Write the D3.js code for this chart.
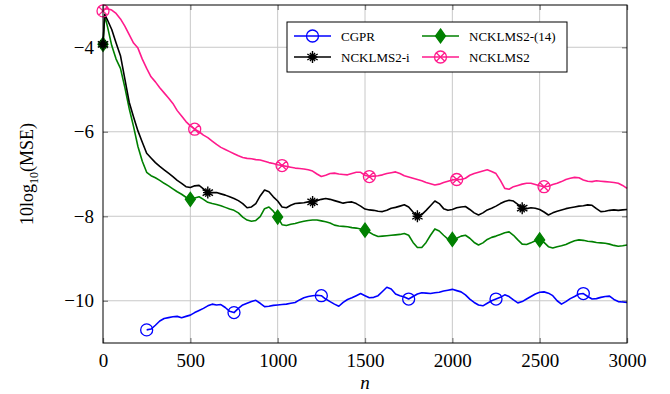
<!DOCTYPE html>
<html>
<head>
<meta charset="utf-8">
<script src="https://cdn.jsdelivr.net/npm/d3@7"></script>
<style>
  body { margin: 0; background: #fff; }
  svg { display: block; }
  svg text { font-family: "Liberation Serif", "Times New Roman", Times, "DejaVu Serif", serif; }
</style>
</head>
<body>
<div id="chart"></div>
<script>
// sample index (n) shared by all series
const nValues = [0, 10].concat(d3.range(25, 3001, 25));

const xTicks = [0, 500, 1000, 1500, 2000, 2500, 3000];
const yTicks = [-10, -8, -6, -4];

// CGPR starts at n = 250
const cgpr = [null, null, null, null, null, null, null, null, null, null, null,
  -10.69, -10.67, -10.58, -10.48, -10.42, -10.40, -10.38, -10.37, -10.40, -10.37,
  -10.34, -10.28, -10.23, -10.18, -10.12, -10.08, -10.10, -10.09, -10.16, -10.25,
  -10.28, -10.18, -10.10, -10.06, -10.02, -9.99, -10.06, -10.14, -10.13, -10.11,
  -10.10, -10.09, -10.08, -10.06, -10.04, -9.98, -9.93, -9.90, -9.88, -9.87,
  -9.88, -9.96, -10.02, -10.08, -10.13, -10.04, -9.97, -9.93, -9.88, -9.83,
  -9.88, -9.93, -9.92, -9.88, -9.78, -9.68, -9.72, -9.84, -9.88, -9.91,
  -9.96, -9.90, -9.84, -9.81, -9.82, -9.83, -9.81, -9.80, -9.77, -9.75,
  -9.73, -9.76, -9.79, -9.86, -9.96, -10.04, -10.10, -10.12, -10.06, -10.00,
  -9.96, -9.92, -9.86, -9.90, -9.98, -10.05, -10.02, -9.96, -9.90, -9.84,
  -9.80, -9.79, -9.82, -9.88, -10.00, -10.08, -10.02, -9.95, -9.90, -9.84,
  -9.83, -9.90, -9.96, -9.95, -9.92, -9.90, -9.89, -9.97, -10.02, -10.03, -10.04];

const ncklms2i = [-3.93, -3.22,
  -3.35, -3.58, -3.90, -4.20, -4.75, -5.30, -5.65, -5.98, -6.25, -6.51,
  -6.62, -6.73, -6.82, -6.90, -6.98, -7.06, -7.15, -7.22, -7.30, -7.32,
  -7.28, -7.27, -7.35, -7.44, -7.44, -7.44, -7.47, -7.50, -7.54, -7.58,
  -7.63, -7.70, -7.80, -7.78, -7.70, -7.52, -7.38, -7.42, -7.54, -7.64,
  -7.78, -7.80, -7.74, -7.70, -7.69, -7.68, -7.66, -7.66, -7.63, -7.60,
  -7.58, -7.60, -7.63, -7.66, -7.69, -7.67, -7.66, -7.70, -7.76, -7.83,
  -7.85, -7.86, -7.88, -7.89, -7.86, -7.81, -7.79, -7.76, -7.73, -7.78,
  -7.90, -8.00, -7.96, -7.86, -7.75, -7.64, -7.70, -7.82, -7.86, -7.84,
  -7.80, -7.78, -7.77, -7.84, -7.92, -7.97, -7.92, -7.85, -7.81, -7.76,
  -7.70, -7.65, -7.62, -7.64, -7.72, -7.81, -7.82, -7.80, -7.81, -7.84,
  -7.90, -7.97, -7.92, -7.88, -7.85, -7.82, -7.80, -7.78, -7.76, -7.75,
  -7.73, -7.74, -7.82, -7.89, -7.88, -7.86, -7.85, -7.86, -7.85, -7.84];

const ncklms2eq14 = [-3.93, -3.25,
  -3.50, -3.96, -4.28, -4.50, -4.95, -5.45, -5.88, -6.35, -6.70, -6.96,
  -7.04, -7.09, -7.15, -7.22, -7.28, -7.35, -7.42, -7.48, -7.55, -7.60,
  -7.57, -7.54, -7.60, -7.67, -7.70, -7.72, -7.75, -7.79, -7.83, -7.86,
  -7.92, -8.02, -8.09, -8.12, -8.10, -8.01, -7.82, -7.78, -7.88, -8.02,
  -8.20, -8.22, -8.19, -8.17, -8.14, -8.12, -8.10, -8.09, -8.09, -8.11,
  -8.13, -8.16, -8.21, -8.23, -8.24, -8.25, -8.27, -8.28, -8.30, -8.33,
  -8.38, -8.44, -8.48, -8.47, -8.46, -8.45, -8.44, -8.43, -8.41, -8.45,
  -8.62, -8.74, -8.74, -8.62, -8.45, -8.30, -8.35, -8.45, -8.54, -8.55,
  -8.52, -8.47, -8.45, -8.52, -8.62, -8.68, -8.63, -8.55, -8.50, -8.47,
  -8.43, -8.39, -8.37, -8.45, -8.56, -8.66, -8.67, -8.63, -8.58, -8.56,
  -8.62, -8.72, -8.75, -8.72, -8.70, -8.67, -8.62, -8.58, -8.56, -8.57,
  -8.59, -8.60, -8.62, -8.63, -8.64, -8.66, -8.69, -8.71, -8.70, -8.68];

const ncklms2 = [-3.14, -3.10,
  -3.09, -3.12, -3.20, -3.33, -3.50, -3.70, -3.90, -4.02, -4.28, -4.50,
  -4.70, -4.82, -4.96, -5.08, -5.20, -5.33, -5.50, -5.63, -5.76, -5.86,
  -5.94, -6.00, -6.08, -6.14, -6.22, -6.30, -6.37, -6.42, -6.47, -6.52,
  -6.57, -6.61, -6.63, -6.64, -6.66, -6.67, -6.70, -6.73, -6.75, -6.78,
  -6.80, -6.82, -6.84, -6.86, -6.87, -6.88, -6.90, -6.93, -7.00, -7.06,
  -7.03, -6.99, -6.98, -7.00, -7.01, -7.02, -6.99, -6.96, -6.96, -7.03,
  -7.06, -7.05, -7.04, -7.02, -6.99, -6.97, -6.95, -6.99, -7.04, -7.07,
  -7.10, -7.13, -7.16, -7.20, -7.23, -7.26, -7.24, -7.20, -7.17, -7.14,
  -7.13, -7.13, -7.10, -7.03, -6.99, -6.96, -6.93, -6.90, -6.94, -6.99,
  -7.15, -7.34, -7.36, -7.30, -7.27, -7.24, -7.22, -7.22, -7.25, -7.28,
  -7.30, -7.29, -7.25, -7.22, -7.18, -7.13, -7.10, -7.08, -7.09, -7.14,
  -7.17, -7.18, -7.16, -7.17, -7.18, -7.19, -7.20, -7.22, -7.27, -7.34];

// n positions of the marks on each curve
const cgprMarks = [250, 750, 1250, 1750, 2250, 2750];
const ncklms2iMarks = [0, 600, 1200, 1800, 2400];
const ncklms2eq14Marks = [0, 500, 1000, 1500, 2000, 2500];
const ncklms2Marks = [0, 525, 1025, 1525, 2025, 2525];

const series = [
  { name: 'CGPR', values: cgpr, marks: cgprMarks, color: '#0000ff', mark: 'circle' },
  { name: 'NCKLMS2-(14)', values: ncklms2eq14, marks: ncklms2eq14Marks, color: '#008000', mark: 'diamond' },
  { name: 'NCKLMS2-i', values: ncklms2i, marks: ncklms2iMarks, color: '#000000', mark: 'asterisk' },
  { name: 'NCKLMS2', values: ncklms2, marks: ncklms2Marks, color: '#ff1a8c', mark: 'otimes' },
];

const W = 670, H = 394;
const margin = { top: 5, right: 43, bottom: 51, left: 103 };
const width = W - margin.left - margin.right;
const height = H - margin.top - margin.bottom;

const svg = d3.select('#chart').append('svg')
  .attr('width', W).attr('height', H);
const g = svg.append('g')
  .attr('transform', `translate(${margin.left},${margin.top})`);

const x = d3.scaleLinear().domain([0, 3000]).range([0, width]);
const y = d3.scaleLinear().domain([-11, -3]).range([height, 0]);

// grid
g.append('g').selectAll('line').data(xTicks.slice(1, -1)).enter().append('line')
  .attr('x1', d => x(d)).attr('x2', d => x(d))
  .attr('y1', 0).attr('y2', height)
  .attr('stroke', '#c8c8c8').attr('stroke-width', 1);
g.append('g').selectAll('line').data(yTicks).enter().append('line')
  .attr('x1', 0).attr('x2', width)
  .attr('y1', d => y(d)).attr('y2', d => y(d))
  .attr('stroke', '#c8c8c8').attr('stroke-width', 1);

// axes (inner ticks, no domain path)
const xAxis = g.append('g')
  .attr('transform', `translate(0,${height})`)
  .call(d3.axisBottom(x).tickValues(xTicks).tickSize(-5).tickPadding(11).tickFormat(d3.format('d')));
const yAxis = g.append('g')
  .call(d3.axisLeft(y).tickValues(yTicks).tickSize(-5).tickPadding(9)
    .tickFormat(d => (d < 0 ? '\u2212' : '') + Math.abs(d)));
g.append('g')
  .attr('transform', `translate(${width},0)`)
  .call(d3.axisRight(y).tickValues(yTicks).tickSize(-5).tickFormat(''));
g.append('g')
  .call(d3.axisTop(x).tickValues(xTicks).tickSize(-5).tickFormat(''));

g.selectAll('.domain').remove();
g.selectAll('.tick line').attr('stroke', '#808080').attr('stroke-width', 1.3);
[xAxis, yAxis].forEach(a => {
  a.attr('font-family', null).attr('font-size', null);
  a.selectAll('text').attr('font-size', '19px').attr('fill', '#000');
});

// curves
const line = d3.line()
  .defined(d => d[1] != null)
  .x(d => x(d[0])).y(d => y(d[1]));

function markPath(type) {
  const r = 6;
  if (type === 'circle') return d3.arc()({ innerRadius: 0, outerRadius: r, startAngle: 0, endAngle: 2 * Math.PI });
  if (type === 'otimes') {
    const c = r * Math.SQRT1_2;
    return `M${r},0A${r},${r},0,1,1,${-r},0A${r},${r},0,1,1,${r},0Z` +
      `M${-c},${-c}L${c},${c}M${-c},${c}L${c},${-c}`;
  }
  if (type === 'asterisk') {
    let p = '';
    [0, 60, 120].forEach(a => {
      const t = (a + 90) * Math.PI / 180;
      p += `M${r * Math.cos(t)},${r * Math.sin(t)}L${-r * Math.cos(t)},${-r * Math.sin(t)}`;
    });
    [30, 90, 150].forEach(a => {
      const t = (a + 90) * Math.PI / 180;
      const q = r * 0.8;
      p += `M${q * Math.cos(t)},${q * Math.sin(t)}L${-q * Math.cos(t)},${-q * Math.sin(t)}`;
    });
    return p;
  }
  // diamond
  return 'M0,-7L5,0L0,7L-5,0Z';
}

function drawMark(sel, s) {
  sel.append('path')
    .attr('d', markPath(s.mark))
    .attr('fill', s.mark === 'diamond' ? s.color : 'none')
    .attr('stroke', s.color)
    .attr('stroke-width', s.mark === 'asterisk' ? 1.4 : 1.3);
}

series.forEach(s => {
  const pts = nValues.map((n, i) => [n, s.values[i]]);
  g.append('path')
    .datum(pts)
    .attr('fill', 'none')
    .attr('stroke', s.color)
    .attr('stroke-width', 1.6)
    .attr('stroke-linejoin', 'round')
    .attr('d', line);

  s.marks.forEach(n => {
    const v = s.values[nValues.indexOf(n)];
    const m = g.append('g').attr('transform', `translate(${x(n)},${y(v)})`);
    drawMark(m, s);
  });
});

// frame
g.append('rect')
  .attr('width', width).attr('height', height)
  .attr('fill', 'none').attr('stroke', '#000').attr('stroke-width', 1);

// axis labels
g.append('text')
  .attr('x', width / 2).attr('y', height + 46)
  .attr('text-anchor', 'middle')
  .attr('font-size', '19px').attr('font-style', 'italic')
  .text('n');

const yl = svg.append('text')
  .attr('transform', `translate(33,${margin.top + height / 2}) rotate(-90)`)
  .attr('text-anchor', 'middle')
  .attr('font-size', '18px');
yl.append('tspan').text('10log');
yl.append('tspan').attr('font-size', '12px').attr('dy', 5).text('10');
yl.append('tspan').attr('dy', -5).text('(MSE)');

// legend (2 columns, row-major like the source)
const legend = svg.append('g').attr('transform', 'translate(287,22)');
legend.append('rect')
  .attr('width', 280).attr('height', 50)
  .attr('fill', '#fff').attr('stroke', '#000').attr('stroke-width', 1);

series.forEach((s, i) => {
  const col = i % 2, row = Math.floor(i / 2);
  const item = legend.append('g')
    .attr('transform', `translate(${7 + col * 128},${14 + row * 21})`);
  item.append('line')
    .attr('x1', 0).attr('x2', 37)
    .attr('stroke', s.color).attr('stroke-width', 1.4);
  drawMark(item.append('g').attr('transform', 'translate(18.5,0)'), s);
  item.append('text')
    .attr('x', 47).attr('y', 4.5)
    .attr('font-size', '13px')
    .text(s.name);
});
</script>
</body>
</html>
